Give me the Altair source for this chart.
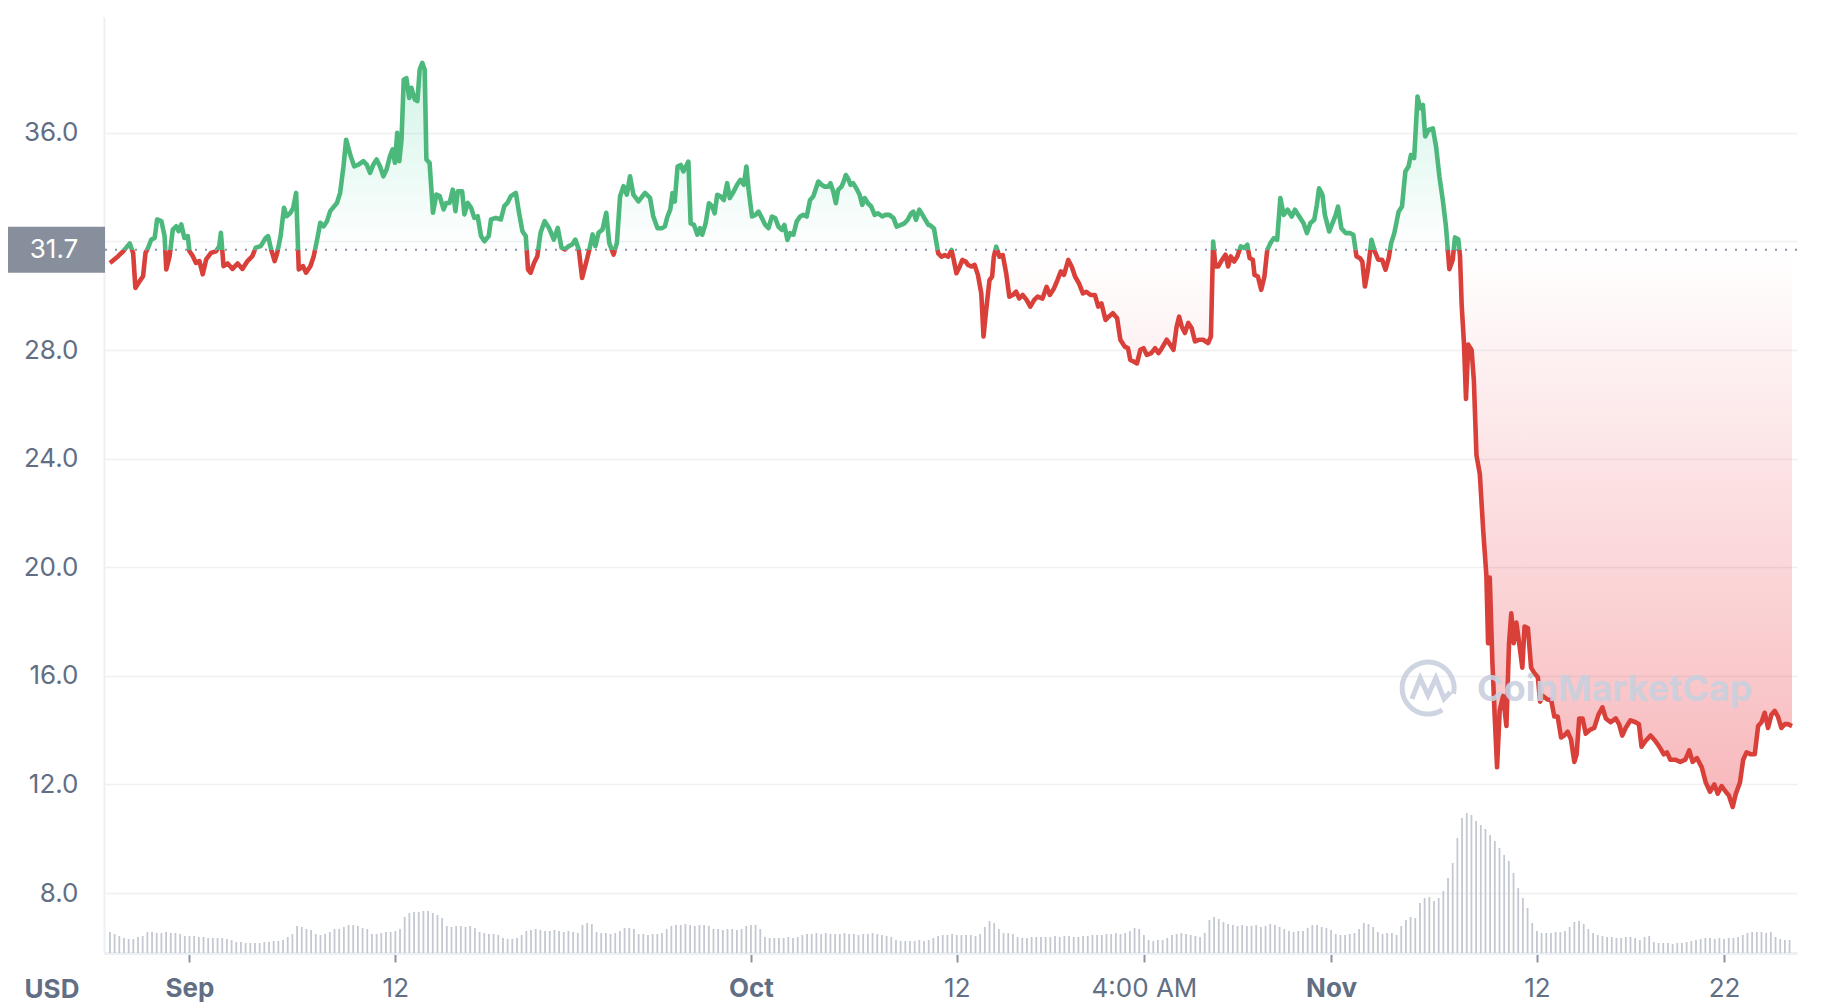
import altair as alt
import pandas as pd

BASELINE = 31.7

# price series (days since Sep 1, USD)
price_day = [
    -4.25, -3.81, -3.54, -3.19, -3.01, -2.89, -2.66, -2.48, -2.35, -2.21,
    -2.04, -1.86, -1.73, -1.50, -1.33, -1.24, -1.06, -0.89, -0.71, -0.58,
    -0.44, -0.27, -0.09, 0.00, 0.18, 0.35, 0.53, 0.71, 0.89, 1.15,
    1.42, 1.59, 1.68, 1.82, 2.04, 2.30, 2.57, 2.83, 3.10, 3.36,
    3.54, 3.81, 4.07, 4.20, 4.34, 4.55, 4.69, 4.87, 5.05, 5.19,
    5.40, 5.54, 5.70, 5.84, 6.07, 6.23, 6.46, 6.64, 6.82, 6.99,
    7.17, 7.35, 7.52, 7.88, 8.05, 8.23, 8.37, 8.59, 8.80, 9.03,
    9.29, 9.47, 9.65, 9.82, 10.00, 10.18, 10.36,
    10.53, 10.71, 10.85, 10.98, 11.10, 11.21, 11.33, 11.45, 11.59, 11.74,
    11.86, 12.04, 12.18, 12.30, 12.44, 12.57, 12.66, 12.83, 13.01, 13.19,
    13.37, 13.58, 13.72, 13.90, 14.07, 14.21, 14.34, 14.57, 14.69, 14.87,
    15.05, 15.22, 15.40, 15.58, 15.76, 15.99, 16.11, 16.37, 16.64, 16.82,
    16.99, 17.17, 17.44, 17.61, 17.79, 17.97, 18.09, 18.23, 18.41, 18.59,
    18.76, 18.98, 19.21, 19.47, 19.68, 19.88, 20.06, 20.27, 20.45, 20.62,
    20.80, 20.98, 21.19, 21.37, 21.54, 21.69, 21.86, 22.07, 22.27, 22.43,
    22.66, 22.84, 23.01, 23.19, 23.37, 23.54, 23.72, 23.99, 24.34, 24.61,
    24.78,
    25.01, 25.23, 25.40, 25.54, 25.69, 25.81, 25.93, 26.08, 26.25, 26.39,
    26.52, 26.66, 26.78, 26.96, 27.14, 27.28, 27.40, 27.58, 27.76, 27.93,
    28.06, 28.20, 28.38, 28.55, 28.73, 28.87, 29.08, 29.26, 29.44, 29.62,
    29.76, 29.88, 30.06, 30.24, 30.41, 30.59, 30.77, 30.94, 31.12, 31.30,
    31.47, 31.65, 31.79, 31.95, 32.09, 32.27, 32.45, 32.63, 32.80, 32.98,
    33.16, 33.33, 33.48, 33.60, 33.78, 33.95, 34.13, 34.25, 34.40, 34.54,
    34.66, 34.84, 34.96, 35.07, 35.19, 35.32, 35.46, 35.63, 35.81, 35.95,
    36.08, 36.25, 36.43, 36.61, 36.79, 37.02, 37.19, 37.40, 37.62, 37.79,
    38.02, 38.20, 38.38, 38.56, 38.68, 38.82, 39.00, 39.17, 39.32, 39.49,
    39.56, 39.78, 40.01, 40.18, 40.36, 40.54, 40.72, 40.84, 40.98, 41.16,
    41.30, 41.48, 41.60, 41.78, 41.95, 42.13, 42.31, 42.43, 42.57, 42.75,
    42.89, 42.98, 43.11, 43.28, 43.46, 43.64, 43.81, 43.99, 44.17, 44.34,
    44.52, 44.73, 44.93, 45.14, 45.32, 45.58, 45.80, 45.97, 46.20, 46.38,
    46.56, 46.73, 46.96, 47.14, 47.32, 47.53, 47.74, 47.92, 48.15, 48.38,
    48.56, 48.73, 48.95, 49.12, 49.34, 49.57, 49.74, 49.97, 50.15, 50.27,
    50.45, 50.63, 50.81, 50.98, 51.16, 51.39, 51.60, 51.78, 51.96, 52.22,
    52.40, 52.58, 52.75, 52.88, 53.02, 53.19, 53.37, 53.55, 53.73, 53.94,
    54.17, 54.43, 54.58, 54.70, 54.82,
    54.97, 55.18, 55.36, 55.50, 55.64, 55.82, 55.99, 56.17, 56.35, 56.52,
    56.65, 56.82, 56.91, 57.09, 57.27, 57.44, 57.59, 57.76, 57.94, 58.12,
    58.29, 58.47, 58.68, 58.90, 59.07, 59.30, 59.53, 59.71, 59.89, 60.10,
    60.24, 60.36, 60.54, 60.67, 60.90, 61.07, 61.25, 61.37, 61.55, 61.78,
    62.01, 62.19, 62.36, 62.54, 62.67, 62.81, 62.97, 63.16, 63.34, 63.52,
    63.73, 63.91, 64.08, 64.21, 64.38, 64.61, 64.79, 64.97, 65.14, 65.27,
    65.44, 65.62, 65.76, 65.91, 66.03, 66.21, 66.44, 66.61, 66.79, 66.97,
    67.14,
    67.32, 67.50, 67.62, 67.80, 67.89, 67.98, 68.10, 68.21, 68.33, 68.51,
    68.63, 68.77, 68.95, 69.13, 69.30, 69.39, 69.48, 69.62, 69.75, 69.87,
    70.01, 70.19, 70.37, 70.51, 70.63, 70.76, 70.90, 71.08, 71.22, 71.34,
    71.52, 71.69, 71.87, 72.05, 72.17, 72.31, 72.58, 72.76, 72.93, 73.11,
    73.29, 73.46, 73.64, 73.82, 74.00, 74.12, 74.26, 74.44, 74.61, 74.83,
    75.06, 75.29, 75.50, 75.68, 75.94, 76.21, 76.39, 76.56, 76.74, 77.00,
    77.27, 77.45, 77.59, 77.80, 78.07, 78.33, 78.54, 78.78, 78.95, 79.13,
    79.39, 79.66, 79.93, 80.14, 80.32, 80.55, 80.81, 81.02, 81.25, 81.48,
    81.66, 81.87, 82.09, 82.26, 82.46, 82.63, 82.85, 83.02, 83.20, 83.43,
    83.64, 83.82, 84.00, 84.17, 84.35, 84.53, 84.71, 84.88, 85.06, 85.24,
    85.41, 85.63,
]

price_usd = [
    31.21, 31.46, 31.64, 31.93, 31.58, 30.29, 30.54, 30.72, 31.58, 31.77,
    32.07, 32.13, 32.81, 32.75, 32.20, 30.97, 31.46, 32.44, 32.56, 32.38,
    32.63, 32.13, 32.20, 31.64, 31.46, 31.21, 31.28, 30.79, 31.34, 31.58,
    31.64, 31.83, 32.32, 31.09, 31.19, 30.99, 31.19, 30.99, 31.28, 31.46,
    31.77, 31.83, 32.13, 32.20, 31.77, 31.28, 31.58, 32.20, 33.24, 32.93,
    33.06, 33.24, 33.79, 30.97, 31.09, 30.85, 31.09, 31.46, 32.07, 32.69,
    32.56, 32.75, 33.12, 33.42, 33.79, 34.77, 35.75, 35.20, 34.77, 34.83,
    34.96, 34.83, 34.53, 34.83, 35.02, 34.77, 34.40,
    34.65, 35.14, 35.39, 34.90, 36.00, 34.96, 35.75, 37.96, 38.02, 37.29,
    37.66, 37.23, 37.17, 38.33, 38.58, 38.33, 35.02, 34.90, 33.06, 33.73,
    33.67, 33.18, 33.42, 33.42, 33.91, 33.12, 33.85, 33.85, 33.00, 33.42,
    33.24, 32.87, 32.93, 32.20, 32.01, 32.20, 32.81, 32.87, 32.81, 33.30,
    33.42, 33.67, 33.79, 33.06, 32.38, 32.20, 30.97, 30.85, 31.21, 31.46,
    32.32, 32.75, 32.50, 32.07, 32.50, 31.77, 31.71, 31.83, 31.89, 32.07,
    31.71, 30.66, 31.21, 31.71, 32.26, 31.83, 32.32, 32.44, 33.06, 31.95,
    31.52, 31.95, 33.67, 34.04, 33.73, 34.40, 33.73, 33.48, 33.79, 33.61,
    32.93,
    32.49, 32.49, 32.55, 32.92, 33.17, 33.78, 33.47, 34.76, 34.82, 34.58,
    34.76, 34.94, 32.67, 32.61, 32.25, 32.49, 32.25, 32.67, 33.41, 33.29,
    33.04, 33.72, 33.66, 33.53, 34.15, 33.60, 33.84, 34.09, 34.27, 34.09,
    34.76, 33.90, 32.92, 32.98, 33.10, 32.86, 32.61, 32.49, 32.92, 32.86,
    32.55, 32.43, 32.61, 32.06, 32.31, 32.25, 32.74, 32.92, 32.98, 32.92,
    33.53, 33.66, 33.96, 34.21, 34.09, 34.02, 34.02, 34.15, 33.84, 33.41,
    33.90, 34.02, 34.21, 34.45, 34.33, 34.09, 34.15, 33.96, 33.72, 33.35,
    33.60, 33.41, 33.29, 32.98, 33.04, 32.92, 32.98, 32.98, 32.86, 32.55,
    32.61, 32.67, 32.80, 33.04, 33.10, 32.80, 33.17, 32.98, 32.80, 32.61,
    32.61, 32.48, 31.56, 31.44, 31.50, 31.44, 31.69, 31.32, 30.83, 31.08,
    31.32, 31.26, 31.14, 31.08, 31.14, 30.77, 30.09, 28.50, 29.48, 30.58,
    30.71, 31.44, 31.81, 31.44, 31.50, 30.83, 29.97, 30.03, 30.15, 29.90,
    30.03, 29.85, 29.60, 29.85, 29.97, 29.90, 30.33, 30.03, 30.28, 30.58,
    30.90, 30.77, 31.32, 31.08, 30.71, 30.46, 30.09, 30.15, 30.03, 30.03,
    29.60, 29.72, 29.11, 29.23, 29.36, 29.17, 28.38, 28.13, 28.07, 27.64,
    27.58, 27.51, 28.01, 28.07, 27.82, 27.89, 28.07, 27.89, 28.07, 28.38,
    28.20, 28.01, 28.87, 29.23, 28.87, 28.63, 29.00, 28.81, 28.32, 28.38,
    28.38, 28.26, 28.50, 32.00, 31.08,
    31.08, 31.33, 31.51, 31.08, 31.45, 31.26, 31.45, 31.82, 31.76, 31.88,
    31.39, 31.33, 30.77, 30.71, 30.22, 30.71, 31.69, 31.94, 32.12, 32.06,
    33.60, 32.98, 33.17, 32.92, 33.17, 32.92, 32.67, 32.31, 32.67, 32.80,
    33.35, 33.96, 33.72, 32.98, 32.37, 32.67, 32.98, 33.29, 32.49, 32.31,
    32.31, 32.25, 31.45, 31.39, 31.26, 30.34, 30.96, 32.06, 31.63, 31.33,
    31.33, 30.96, 31.39, 31.94, 32.31, 33.10, 33.29, 34.58, 34.76, 35.19,
    35.07, 37.34, 36.91, 37.03, 35.87, 36.11, 36.17, 35.50, 34.39, 33.53,
    32.55,
    30.98, 31.32, 32.15, 32.08, 31.46, 29.66, 28.27, 26.20, 28.20, 28.00,
    26.89, 24.12, 23.43, 21.35, 19.69, 17.20, 19.62, 16.51, 14.43, 12.63,
    14.71, 15.26, 14.15, 17.20, 18.30, 17.20, 17.96, 17.06, 16.30, 17.82,
    17.75, 16.30, 16.09, 15.95, 15.05, 15.26, 15.12, 15.12, 14.50, 14.50,
    13.73, 13.80, 13.94, 13.66, 12.83, 13.11, 14.43, 14.43, 13.87, 14.01,
    14.08, 14.57, 14.84, 14.43, 14.29, 14.43, 14.22, 13.80, 14.08, 14.36,
    14.29, 14.22, 13.39, 13.60, 13.80, 13.60, 13.39, 13.11, 13.18, 12.91,
    12.91, 12.83, 12.91, 13.25, 12.83, 12.97, 12.63, 12.07, 11.73, 12.00,
    11.66, 11.94, 11.73, 11.59, 11.17, 11.66, 12.07, 12.91, 13.18, 13.11,
    13.11, 14.15, 14.29, 14.64, 14.08, 14.57, 14.71, 14.50, 14.08, 14.22,
    14.22, 14.15,
]

# volume (six-hourly, starting Aug 27 18:00 = day -4.25)
VOL_START = -4.25
VOL_STEP = 0.25
volume_musd = [
    21, 19, 17, 15, 14, 14, 16, 17, 21, 21, 20, 20, 21, 20, 20, 19,
    17, 17, 17, 16, 16, 15, 15, 15, 15, 14, 13, 11, 11, 10, 10, 10,
    10, 11, 11, 12, 12, 13, 16, 19, 27, 26, 24, 23, 19, 18, 19, 21,
    24, 24, 26, 28, 28, 27, 25, 24, 19, 19, 20, 21, 21, 22, 24, 36,
    40, 41, 41, 42, 42, 40, 38, 35, 27, 26, 27, 27, 26, 27, 25, 21,
    20, 19, 19, 18, 15, 14, 14, 15, 18, 22, 23, 24, 23, 22, 22, 23,
    22, 21, 22, 21, 20, 28, 30, 29, 21, 20, 20, 19, 20, 22, 25, 25,
    24, 19, 19, 18, 19, 19, 20, 24, 27, 28, 28, 29, 28, 27, 28, 28,
    27, 24, 24, 23, 24, 24, 23, 24, 27, 28, 28, 24, 16, 15, 15, 15,
    15, 16, 15, 16, 18, 19, 19, 20, 19, 20, 19, 19, 19, 20, 19, 19,
    18, 19, 19, 20, 19, 18, 17, 16, 13, 12, 12, 12, 12, 13, 12, 13,
    15, 17, 18, 18, 19, 18, 18, 18, 18, 17, 19, 26, 32, 30, 24, 20,
    20, 19, 16, 15, 15, 16, 16, 16, 16, 16, 17, 16, 17, 17, 16, 16,
    17, 17, 18, 18, 18, 19, 19, 20, 19, 20, 22, 25, 24, 18, 13, 12,
    13, 13, 15, 18, 19, 20, 19, 18, 17, 16, 20, 33, 36, 34, 31, 29,
    28, 27, 28, 27, 27, 28, 26, 27, 29, 28, 26, 24, 22, 21, 22, 22,
    25, 28, 28, 26, 25, 23, 19, 18, 18, 19, 20, 24, 30, 29, 26, 21,
    19, 20, 20, 18, 27, 33, 36, 35, 50, 55, 56, 52, 55, 62, 75, 90,
    115, 135, 140, 138, 132, 128, 124, 118, 112, 105, 98, 92, 80, 65, 55, 45,
    30, 22, 20, 20, 20, 21, 21, 22, 26, 31, 32, 29, 24, 20, 18, 17,
    16, 16, 15, 15, 16, 16, 15, 13, 16, 17, 11, 10, 10, 10, 9, 10,
    10, 11, 12, 13, 14, 15, 15, 14, 15, 14, 15, 15, 16, 18, 20, 21,
    21, 21, 20, 21, 16, 14, 13, 13,
]

tick_days = [0, 11, 30, 41, 51, 61, 72, 82]
tick_labels = ["Sep", "12", "Oct", "12", "4:00 AM", "Nov", "12", "22"]
bold_ticks = [0, 30, 61]
y_ticks = [8, 12, 16, 20, 24, 28, 32, 36]

X_DOMAIN = [-4.3, 85.63]
Y_DOMAIN = [5.79, 40.27]
W, H = 1693, 936
FONT = "Inter"
LABEL_COLOR = "#616e84"
GREEN = "#4cb87b"
RED = "#d9403a"

price_df = pd.DataFrame({"day": price_day, "price": price_usd})
price_df["base"] = BASELINE
vol_df = pd.DataFrame({
    "day": [VOL_START + i * VOL_STEP for i in range(len(volume_musd))],
    "volume": volume_musd,
})
base_df = pd.DataFrame({"v": [BASELINE]})
one_df = pd.DataFrame({"k": [0]})

pmax, pmin = max(price_usd), min(price_usd)
split = (pmax - BASELINE) / (pmax - pmin)

line_grad = alt.LinearGradient(
    gradient="linear", x1=0, x2=0, y1=0, y2=1,
    stops=[
        alt.GradientStop(color=GREEN, offset=0),
        alt.GradientStop(color=GREEN, offset=split),
        alt.GradientStop(color=RED, offset=split),
        alt.GradientStop(color=RED, offset=1),
    ],
)
area_grad = alt.LinearGradient(
    gradient="linear", x1=0, x2=0, y1=0, y2=1,
    stops=[
        alt.GradientStop(color="rgba(22,199,132,0.20)", offset=0),
        alt.GradientStop(color="rgba(22,199,132,0.0)", offset=split),
        alt.GradientStop(color="rgba(234,57,67,0.0)", offset=split),
        alt.GradientStop(color="rgba(234,57,67,0.36)", offset=1),
    ],
)

label_expr = " : ".join(
    f"datum.value == {d} ? '{l}'" for d, l in zip(tick_days, tick_labels)
) + " : ''"
# the label under the 31.7 marker box is hidden, as in the original
y_label_expr = f"abs(datum.value - {BASELINE}) < 1 ? '' : format(datum.value, '.1f')"

xscale = alt.Scale(domain=X_DOMAIN, nice=False, zero=False)
yscale = alt.Scale(domain=Y_DOMAIN, nice=False, zero=False)

X = alt.X(
    "day:Q", scale=xscale, title=None,
    axis=alt.Axis(
        values=tick_days, labelExpr=label_expr, grid=False,
        domainColor="#eceff3", domainWidth=3,
        tickColor="#8a93a3", tickSize=9, tickWidth=2,
        labelFont=FONT, labelFontSize=26, labelColor=LABEL_COLOR,
        labelPadding=13,
        labelFontWeight={
            "condition": {"test": f"indexof({bold_ticks}, datum.value) >= 0", "value": "bold"},
            "value": "normal",
        },
    ),
)
Y = alt.Y(
    "price:Q", scale=yscale, title=None,
    axis=alt.Axis(
        values=y_ticks, labelExpr=y_label_expr, grid=True, gridColor="#eef0f3", gridWidth=1.5,
        domainColor="#eceff3", domainWidth=2, ticks=False,
        labelFont=FONT, labelFontSize=26, labelColor=LABEL_COLOR, labelPadding=26,
    ),
)

vol = alt.Chart(vol_df).mark_bar(width=1.8, color="#c3c8d1").encode(
    x=X,
    y=alt.Y("volume:Q", scale=alt.Scale(domain=[0, H], nice=False), axis=None, title=None),
)

area = alt.Chart(price_df).mark_area(fill=area_grad).encode(x=X, y=Y, y2="base:Q")
line = alt.Chart(price_df).mark_line(stroke=line_grad, strokeWidth=4.6, strokeJoin="round").encode(x=X, y=Y)

rule = alt.Chart(base_df).mark_rule(color="#8c94a3", strokeWidth=2, strokeDash=[2, 8]).encode(
    y=alt.Y("v:Q", scale=yscale, title=None)
)

box_path = "M -1 -0.474 L 1 -0.474 L 1 0.474 L -1 0.474 Z"
box = alt.Chart(base_df).mark_point(
    shape=box_path, size=97 * 97, filled=True, color="#878f9c", opacity=1, strokeWidth=0
).encode(x=alt.value(-47.5), y=alt.Y("v:Q", scale=yscale, title=None))
box_text = alt.Chart(base_df).mark_text(
    color="white", font=FONT, fontSize=26, align="center", baseline="middle"
).encode(x=alt.value(-50), y=alt.Y("v:Q", scale=yscale, title=None), text=alt.Text("v:Q", format=".1f"))

usd = alt.Chart(one_df).mark_text(
    color=LABEL_COLOR, font=FONT, fontSize=26, fontWeight="bold", align="center", baseline="middle"
).encode(x=alt.value(-52), y=alt.value(H + 37), text=alt.value("USD"))

logo_path = ("M 0.55 0.84 A 1 1 0 1 1 0.98 0.22 "
             "M -0.62 0.42 L -0.3 -0.38 L 0 0.28 L 0.3 -0.38 L 0.62 0.42 L 0.86 0.16")
logo = alt.Chart(one_df).mark_point(
    shape=logo_path, size=52 * 52, filled=False, color="#c9d0de", strokeWidth=5, opacity=0.9
).encode(x=alt.value(1324), y=alt.value(671))
wm = alt.Chart(one_df).mark_text(
    color="#c9d0de", font=FONT, fontSize=36, fontWeight="bold", align="left",
    baseline="middle", opacity=0.9
).encode(x=alt.value(1373), y=alt.value(673), text=alt.value("CoinMarketCap"))

price_layer = alt.layer(area, line, rule, box, box_text, usd, logo, wm)

chart = alt.layer(vol, price_layer).resolve_scale(y="independent").properties(
    width=W, height=H,
    autosize=alt.AutoSizeParams(type="none"),
    padding={"left": 104, "top": 17, "right": 1828 - 104 - W, "bottom": 1008 - 17 - H},
    background="white",
).configure_view(stroke=None)

chart.save("out.html", embed_options={"renderer": "svg", "actions": False})
